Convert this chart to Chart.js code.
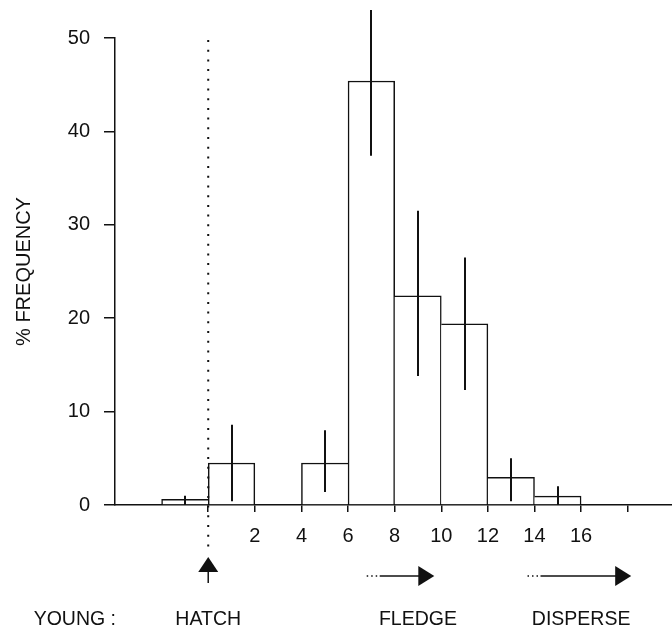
<!DOCTYPE html>
<html>
<head>
<meta charset="utf-8">
<title>% frequency by age</title>
<script src="https://cdn.jsdelivr.net/npm/chart.js@4.4.1/dist/chart.umd.min.js"></script>
<style>
	html, body { margin: 0; padding: 0; background: #fff; }
	.chart-box { width: 672px; height: 632px; position: relative; }
</style>
</head>
<body>
<div class="chart-box"><canvas class="chart-hist"></canvas></div>
<script>
// values (age in days, 2-day bins)

const binCentres = [-1, 1, 5, 7, 9, 11, 13, 15];
const frequency = [0.6, 4.5, 4.5, 45.4, 22.4, 19.4, 2.95, 0.95];
const errLow = [0, 0.4, 1.4, 37.4, 13.8, 12.3, 0.4, 0];
const errHigh = [1.0, 8.6, 8.0, 53.0, 31.5, 26.5, 5.0, 2.0];

const xTicks = [0, 2, 4, 6, 8, 10, 12, 14, 16, 18];
const xLabels = [2, 4, 6, 8, 10, 12, 14, 16];
const yTicks = [0, 10, 20, 30, 40, 50];

const rowLabel = 'YOUNG :';
const events = ['HATCH', 'FLEDGE', 'DISPERSE'];
const eventAges = [0, 9, 16];
const arrowFrom = [null, 6.8, 13.7];
const arrowTo = [null, 9.7, 18.15];


const ink = '#111';
const family = '"Liberation Sans", Arial, sans-serif';
Chart.defaults.font.family = family;
Chart.defaults.font.size = 20;
Chart.defaults.color = ink;

// a shared edge between two bins is drawn once, by the taller bin
const neighbour = (i, step) => {
	const j = i + step;
	if (binCentres[j] === undefined || Math.abs(binCentres[j] - binCentres[i]) !== 2) return null;
	return frequency[j];
};
const edgeWidths = i => {
	const left = neighbour(i, -1);
	const right = neighbour(i, 1);
	return {
		top: 1.5,
		left: left === null || left < frequency[i] ? 1.5 : 0,
		right: right === null || right <= frequency[i] ? 1.5 : 0,
		bottom: 0
	};
};

const extrasPlugin = {
	id: 'extras',
	afterDatasetsDraw(chart) {
		const { ctx, chartArea, scales: { x, y } } = chart;
		const base = chartArea.bottom;
		ctx.save();
		ctx.strokeStyle = ink;
		ctx.fillStyle = ink;

		// error bars
		ctx.lineWidth = 2;
		binCentres.forEach((c, i) => {
			const px = Math.round(x.getPixelForValue(c));
			ctx.beginPath();
			ctx.moveTo(px, y.getPixelForValue(errHigh[i]));
			ctx.lineTo(px, y.getPixelForValue(errLow[i]));
			ctx.stroke();
		});

		const arrowY = base + 71;
		const textY = base + 115;

		events.forEach((name, i) => {
			const ex = x.getPixelForValue(eventAges[i]);

			if (arrowFrom[i] === null) {
				// dotted marker line + up arrow
				ctx.lineWidth = 2;
				ctx.setLineDash([2, 7.7]);
				ctx.beginPath();
				ctx.moveTo(ex, y.getPixelForValue(50) + 2);
				ctx.lineTo(ex, base + 48);
				ctx.stroke();
				ctx.setLineDash([]);

				ctx.lineWidth = 1.5;
				ctx.beginPath();
				ctx.moveTo(ex, base + 62);
				ctx.lineTo(ex, base + 78);
				ctx.stroke();
				ctx.beginPath();
				ctx.moveTo(ex, base + 52);
				ctx.lineTo(ex - 10, base + 67);
				ctx.lineTo(ex + 10, base + 67);
				ctx.closePath();
				ctx.fill();
			} else {
				const x0 = x.getPixelForValue(arrowFrom[i]);
				const x1 = x.getPixelForValue(arrowTo[i]);

				ctx.lineWidth = 1.5;
				ctx.setLineDash([1.5, 3]);
				ctx.beginPath();
				ctx.moveTo(x0, arrowY);
				ctx.lineTo(x0 + 12, arrowY);
				ctx.stroke();
				ctx.setLineDash([]);
				ctx.beginPath();
				ctx.moveTo(x0 + 13, arrowY);
				ctx.lineTo(x1 - 15, arrowY);
				ctx.stroke();
				ctx.beginPath();
				ctx.moveTo(x1, arrowY);
				ctx.lineTo(x1 - 16, arrowY - 10);
				ctx.lineTo(x1 - 16, arrowY + 10);
				ctx.closePath();
				ctx.fill();
			}

			ctx.font = '19.5px ' + family;
			ctx.textAlign = 'center';
			ctx.textBaseline = 'middle';
			ctx.fillText(name, ex, textY);
		});

		ctx.textAlign = 'right';
		ctx.fillText(rowLabel, chartArea.left + 1, textY);

		ctx.restore();
	}
};


document.addEventListener('DOMContentLoaded', () => {
	const chartHist = document.querySelector('.chart-hist');

	new Chart(chartHist, {
		type: 'bar',
		data: {
			datasets: [{
				data: binCentres.map((c, i) => ({ x: c, y: frequency[i] })),
				backgroundColor: '#fff',
				borderColor: ink,
				borderWidth: ctx => edgeWidths(ctx.dataIndex),
				borderSkipped: false,
				barPercentage: 1,
				categoryPercentage: 1
			}]
		},
		options: {
			responsive: true,
			maintainAspectRatio: false,
			animation: false,
			layout: {
				padding: { top: 38, right: 0, bottom: 0, left: 0 }
			},
			plugins: {
				legend: false,
				tooltip: { enabled: false }
			},
			scales: {
				x: {
					type: 'linear',
					min: -4,
					max: 19.9,
					offset: false,
					afterBuildTicks: axis => {
						axis.ticks = xTicks.map(v => ({ value: v }));
					},
					afterFit: axis => {
						axis.height = 127;
					},
					grid: {
						offset: false,
						drawOnChartArea: false,
						tickLength: 7,
						color: ink,
						lineWidth: 1.5
					},
					border: { color: ink, width: 1.5 },
					ticks: {
						autoSkip: false,
						maxRotation: 0,
						padding: 12,
						callback: v => xLabels.includes(v) ? String(v) : ''
					}
				},
				y: {
					min: 0,
					max: 50,
					afterBuildTicks: axis => {
						axis.ticks = yTicks.map(v => ({ value: v }));
					},
					afterFit: axis => {
						axis.width = 115;
					},
					grid: {
						drawOnChartArea: false,
						tickLength: 11,
						color: ink,
						lineWidth: 1.5
					},
					border: { color: ink, width: 1.5 },
					ticks: { padding: 14 },
					title: {
						display: true,
						text: '% FREQUENCY',
						padding: { top: 12, bottom: 0 }
					}
				}
			}
		},
		plugins: [extrasPlugin]
	});
});
</script>
</body>
</html>
